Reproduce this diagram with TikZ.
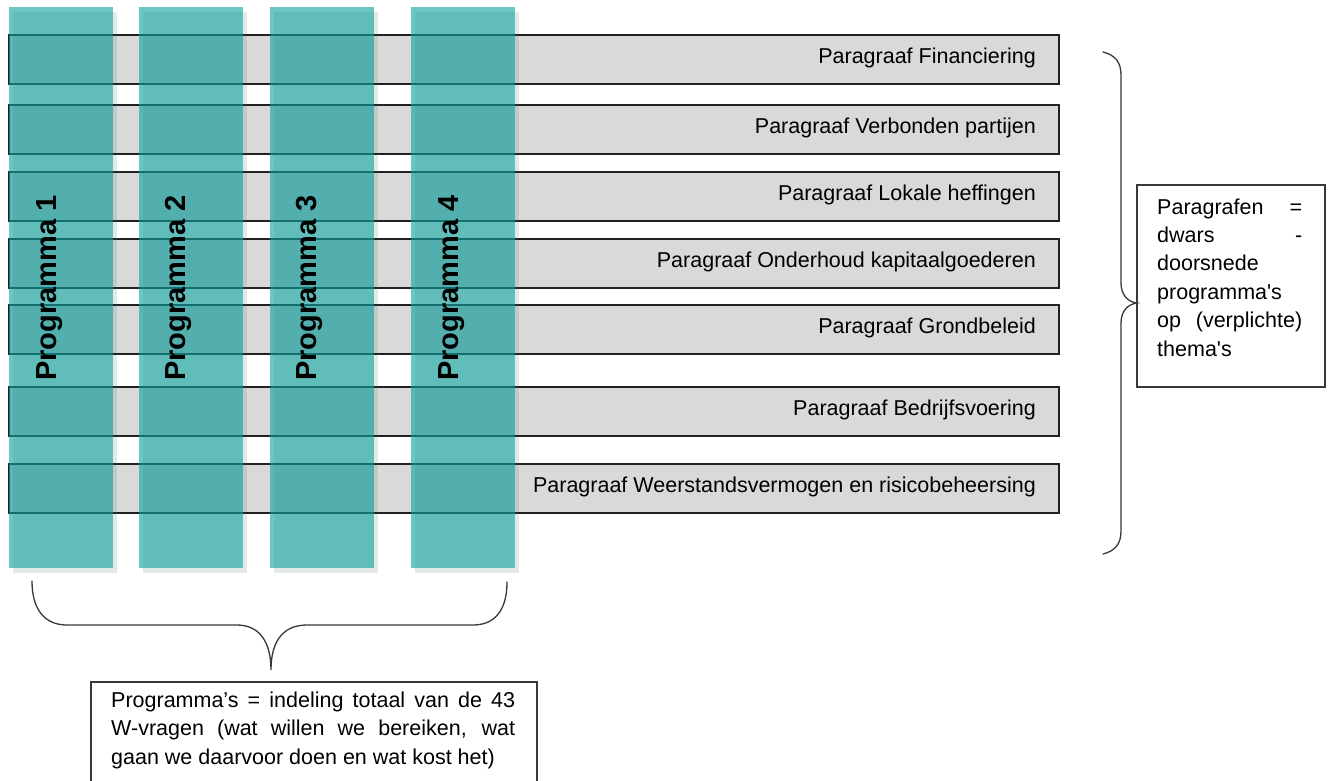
\documentclass[tikz,border=0pt]{standalone}
\usepackage{fontspec}
\newfontfamily\arial{Liberation Sans}
\definecolor{progteal}{RGB}{10,160,155}
\definecolor{barfill}{RGB}{217,217,217}
\definecolor{shadowtint}{RGB}{60,90,100}
\definecolor{edge}{RGB}{34,34,34}
\tikzset{
  parbar/.style={draw=edge, line width=1.2pt, fill=barfill, anchor=north west,
    minimum width=1050pt, minimum height=49pt, inner sep=0pt, outer sep=0pt},
  parlabel/.style={anchor=base east, inner sep=0pt, font=\arial\fontsize{21.5}{26}\selectfont},
  colshadow/.style={fill=shadowtint, fill opacity=0.14, draw=none, anchor=north west,
    minimum width=104pt, minimum height=561pt, inner sep=0pt, outer sep=0pt},
  progcol/.style={fill=progteal, fill opacity=0.6, draw=none, anchor=north west,
    minimum width=104pt, minimum height=561pt, inner sep=0pt, outer sep=0pt},
  progtext/.style={rotate=90, anchor=base, inner sep=0pt,
    font=\arial\bfseries\fontsize{29}{34}\selectfont},
  notebox/.style={draw=edge!90, line width=1.2pt, fill=white, anchor=north west,
    inner sep=0pt, outer sep=0pt},
  notetext/.style={anchor=base west, inner sep=0pt, font=\arial\fontsize{21.5}{28.4}\selectfont},
  bracepath/.style={draw=edge!90, line width=1.3pt, line cap=round}
}
\begin{document}
\begin{tikzpicture}[x=1pt,y=-1pt]
\useasboundingbox (0,0) rectangle (1330,780);
\begin{scope}
\clip (0,0) rectangle (1330,780);

% horizontal bars: the paragraphs
\foreach \name/\top/\txt in {
  b1/35/{Paragraaf Financiering},
  b2/105/{Paragraaf Verbonden partijen},
  b3/172/{Paragraaf Lokale heffingen},
  b4/239/{Paragraaf Onderhoud kapitaalgoederen},
  b5/305/{Paragraaf Grondbeleid},
  b6/387/{Paragraaf Bedrijfsvoering},
  b7/464/{Paragraaf Weerstandsvermogen en risicobeheersing}} {
  \node[parbar] (\name) at (9,\top) {};
  \node[parlabel] (\name-t) at (1036,\top+28.5) {\txt};
}

% vertical columns: the programmes
\foreach \name/\left/\num in {c1/9/1, c2/138.5/2, c3/269.5/3, c4/411/4} {
  \node[colshadow] (\name-s) at (\left+4,12) {};
  \node[progcol] (\name) at (\left,7) {};
  \node[progtext] (\name-t) at (\left+47,288) {Programma \num};
}

% note on the right
\node[notebox, minimum width=188pt, minimum height=202pt] (rnote) at (1137,185) {};
\node[notetext] (rnote-t) at (1157,214) {\parbox[t]{145pt}{%
  \fontsize{21.5}{28.4}\selectfont
  \hbox to 145pt{Paragrafen\hfill=}%
  \hbox to 145pt{dwars\hfill-}%
  \hbox{doorsnede}%
  \hbox{programma's}%
  \hbox to 145pt{op\hfill(verplichte)}%
  \hbox{thema's}}};

% note at the bottom
\node[notebox, minimum width=446pt, minimum height=120pt] (bnote) at (91,682) {};
\node[notetext] (bnote-t) at (111,707) {\parbox[t]{404pt}{%
  \fontsize{21.5}{28.6}\selectfont
  \hbox to 404pt{Programma’s = indeling totaal van de 43}%
  \hbox to 404pt{W-vragen (wat willen we bereiken, wat}%
  \hbox{gaan we daarvoor doen en wat kost het)}}};

% brace grouping the paragraphs
\coordinate (rtop) at (1103,52);
\coordinate (rtip) at (rnote.west |- 0,303);
\coordinate (rbot) at (1103,554);
\draw[bracepath] (rtop) .. controls (1115,55) and (1121,62) .. (1121,75)
  -- (1121,283) .. controls (1121,295) and (1128,302) .. (rtip)
  .. controls (1128,304) and (1121,311) .. (1121,323)
  -- (1121,531) .. controls (1121,544) and (1115,551) .. (rbot);

% brace grouping the programmes
\coordinate (bl) at (32,581);
\coordinate (btip) at (271,670);
\coordinate (br) at (507,582);
\draw[bracepath] (bl) .. controls (32,610) and (45,625) .. (67,625)
  -- (237,625) .. controls (258,625) and (271,640) .. (btip)
  .. controls (271,640) and (284,625) .. (307,625)
  -- (473,625) .. controls (495,625) and (507,610) .. (br);
\end{scope}
\end{tikzpicture}
\end{document}
